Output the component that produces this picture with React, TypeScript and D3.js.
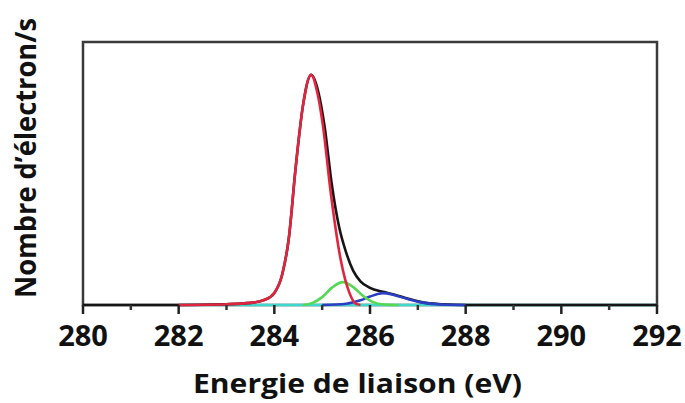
import * as d3 from "d3";
import { useEffect, useRef } from "react";

// binding energy axis (eV)
const xTicksMajor = [280, 282, 284, 286, 288, 290, 292];
const xTicksMinor = [281, 283, 285, 287, 289, 291];

// curves: [energy (eV), counts (a.u.)]
const envelope: [number, number][] = [
  [280, 0], [282, 0], [283, 0.3], [283.5, 0.8], [283.8, 2], [284.0, 4.6],
  [284.17, 12], [284.3, 25], [284.45, 53], [284.6, 76], [284.77, 87.5],
  [284.92, 81], [285.05, 68], [285.2, 46], [285.35, 30], [285.5, 20],
  [285.65, 13], [285.8, 9], [286.0, 6.5], [286.27, 5], [286.5, 4],
  [286.8, 2.4], [287.1, 1], [287.5, 0.3], [288, 0], [292, 0],
];
const peakC: [number, number][] = [
  [282, 0], [283, 0.3], [283.5, 0.8], [283.8, 2], [284.0, 4.6],
  [284.17, 12], [284.3, 25], [284.45, 53], [284.6, 76], [284.77, 87.5],
  [284.9, 80.6], [285.02, 67.7], [285.18, 42.6], [285.39, 17],
  [285.57, 4.6], [285.7, 0.5], [285.8, 0],
];
const peakCO: [number, number][] = [
  [284.6, 0], [284.8, 0.8], [285.0, 3], [285.2, 6.5], [285.43, 8.7],
  [285.65, 6.8], [285.85, 3.5], [286.05, 1.2], [286.3, 0.2], [286.6, 0],
];
const peakCOO: [number, number][] = [
  [285.0, 0], [285.5, 0.5], [285.8, 1.8], [286.0, 3.2], [286.27, 4.5],
  [286.5, 3.8], [286.8, 2.2], [287.1, 0.9], [287.5, 0.2], [288, 0],
];
const background: [number, number][] = [
  [282, 0], [284, 0], [286, 0], [288, 0], [290, 0], [292, 0],
];

const series = [
  { data: background, color: "#3fd6cc" },
  { data: envelope, color: "#151515" },
  { data: peakCOO, color: "#2a3fc4" },
  { data: peakCO, color: "#55d855" },
  { data: peakC, color: "#e0263f" },
];

export default function App() {
  const ref = useRef(null);

  useEffect(() => {
    if (!ref.current) return;
    const svg = d3.select(ref.current);
    svg.selectAll("*").remove();

    const left = 83;
    const right = 657;
    const top = 42;
    const bottom = 305;

    const x = d3.scaleLinear().domain([280, 292]).range([left, right]);
    const y = d3.scaleLinear().domain([0, 100]).range([bottom, top]);

    // frame
    svg
      .append("rect")
      .attr("x", left)
      .attr("y", top)
      .attr("width", right - left)
      .attr("height", bottom - top)
      .attr("fill", "none")
      .attr("stroke", "#3a3a3a")
      .attr("stroke-width", 2.5);

    const line = d3
      .line<[number, number]>()
      .x((d) => x(d[0]))
      .y((d) => y(d[1]))
      .curve(d3.curveMonotoneX);

    series.forEach((s) => {
      svg
        .append("path")
        .attr("d", line(s.data) as string)
        .attr("fill", "none")
        .attr("stroke", s.color)
        .attr("stroke-width", 2.6)
        .attr("stroke-linejoin", "round");
    });

    // bottom axis
    const axis = svg.append("g");
    axis
      .selectAll("line.major")
      .data(xTicksMajor)
      .join("line")
      .attr("x1", (d) => x(d))
      .attr("x2", (d) => x(d))
      .attr("y1", bottom)
      .attr("y2", bottom + 9)
      .attr("stroke", "#222")
      .attr("stroke-width", 2.5);
    axis
      .selectAll("line.minor")
      .data(xTicksMinor)
      .join("line")
      .attr("x1", (d) => x(d))
      .attr("x2", (d) => x(d))
      .attr("y1", bottom)
      .attr("y2", bottom + 5)
      .attr("stroke", "#333")
      .attr("stroke-width", 2.5);
    axis
      .selectAll("text")
      .data(xTicksMajor)
      .join("text")
      .attr("x", (d) => x(d))
      .attr("y", 346)
      .attr("text-anchor", "middle")
      .style("font-family", "'Open Sans', sans-serif")
      .style("font-weight", 700)
      .style("font-size", "29px")
      .attr("fill", "#111")
      .text((d) => d);

    svg
      .append("text")
      .attr("x", 193)
      .attr("y", 393)
      .attr("textLength", 329)
      .attr("lengthAdjust", "spacingAndGlyphs")
      .style("font-family", "'Open Sans', sans-serif")
      .style("font-weight", 700)
      .style("font-size", "27px")
      .attr("fill", "#111")
      .text("Energie de liaison (eV)");

    svg
      .append("text")
      .attr("transform", "translate(36,298) rotate(-90)")
      .attr("textLength", 280)
      .attr("lengthAdjust", "spacingAndGlyphs")
      .style("font-family", "'Open Sans', sans-serif")
      .style("font-weight", 700)
      .style("font-size", "28px")
      .attr("fill", "#111")
      .text("Nombre d\u2019électron/s");
  }, []);

  return (
    <svg
      ref={ref}
      width={685}
      height={403}
      style={{ position: "absolute", left: 0, top: 0, background: "#fff" }}
    />
  );
}
